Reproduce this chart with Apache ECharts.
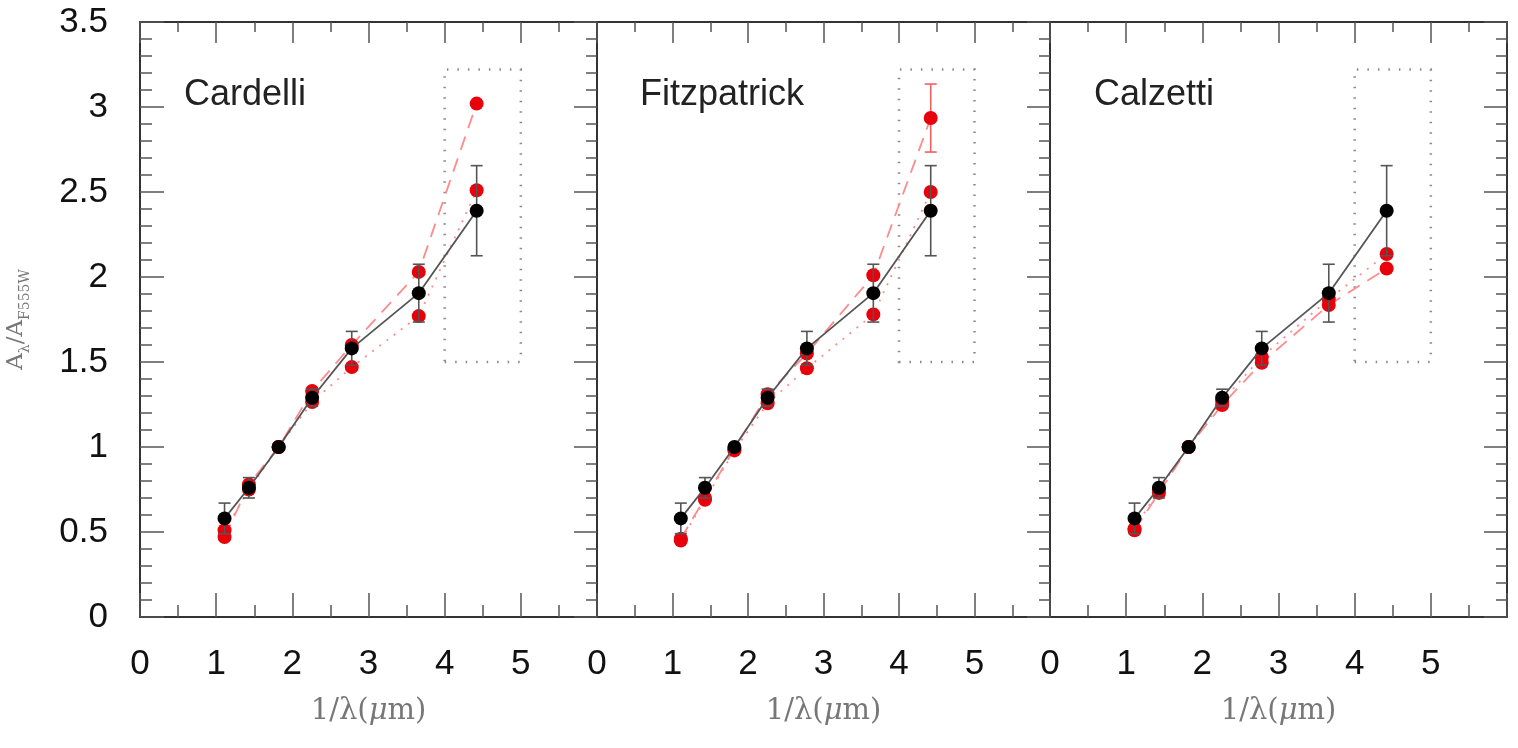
<!DOCTYPE html>
<html>
<head>
<meta charset="utf-8">
<script src="https://cdn.jsdelivr.net/npm/echarts@6/dist/echarts.min.js"></script>
<style>html,body{margin:0;padding:0;background:#fff;}#c{width:1518px;height:748px;}</style>
</head>
<body>
<div id="c"></div>
<script>
// ---- data ----
const panelNames = ['Cardelli', 'Fitzpatrick', 'Calzetti'];
const invLambda = [1.11, 1.43, 1.82, 2.26, 2.78, 3.66, 4.42];
const observed = [0.58, 0.76, 1.0, 1.29, 1.58, 1.905, 2.39];
const observedErr = [0.09, 0.06, 0, 0.05, 0.10, 0.17, 0.265];
const cardelliDashed = [0.47, 0.78, 1.0, 1.33, 1.60, 2.03, 3.02];
const cardelliDotted = [0.51, 0.75, 1.0, 1.265, 1.47, 1.77, 2.51];
const fitzDashed = [0.46, 0.70, 0.99, 1.31, 1.55, 2.01, 2.935];
const fitzDashedErr = [0, 0, 0, 0, 0, 0, 0.20];
const fitzDotted = [0.45, 0.69, 0.98, 1.257, 1.463, 1.78, 2.50];
const calzDashed = [0.51, 0.73, 1.0, 1.247, 1.496, 1.835, 2.05];
const calzDotted = [0.52, 0.75, 1.0, 1.27, 1.53, 1.87, 2.135];
const boxX = [4, 5];
const boxY = [1.5, 3.22];
const xTicks = [0, 1, 2, 3, 4, 5];
const yTicks = [0, 0.5, 1, 1.5, 2, 2.5, 3, 3.5];

const dashedSets = [cardelliDashed, fitzDashed, calzDashed];
const dottedSets = [cardelliDotted, fitzDotted, calzDotted];
const dashedErrSets = [null, fitzDashedErr, null];

// ---- layout ----
const grids = [
  {left: 140, right: 1518 - 597, top: 22, bottom: 748 - 617},
  {left: 597, right: 1518 - 1050, top: 22, bottom: 748 - 617},
  {left: 1050, right: 1518 - 1507, top: 22, bottom: 748 - 617}
];
const titleLefts = [179, 635, 1089];

const frame = {show: true, onZero: false, lineStyle: {color: '#333', width: 2}};
const tickStyle = {color: '#555', width: 1.5};
const sans = 'Liberation Sans, Arial, Helvetica, sans-serif';
const serif = 'DejaVu Serif, Liberation Serif, serif';

const xAxis = [], yAxis = [], series = [], title = [];

function zip(xs, ys, es) {
  return xs.map((x, i) => es ? [x, ys[i], es[i]] : [x, ys[i]]);
}

function errRender(color) {
  return function (params, api) {
    const x = api.value(0), y = api.value(1), e = api.value(2);
    if (!e) return null;
    const t = api.coord([x, y + e]);
    const b = api.coord([x, y - e]);
    const w = 6;
    const st = {stroke: color, lineWidth: 1.6};
    return {
      type: 'group',
      children: [
        {type: 'line', shape: {x1: t[0], y1: t[1], x2: b[0], y2: b[1]}, style: st},
        {type: 'line', shape: {x1: t[0] - w, y1: t[1], x2: t[0] + w, y2: t[1]}, style: st},
        {type: 'line', shape: {x1: b[0] - w, y1: b[1], x2: b[0] + w, y2: b[1]}, style: st}
      ]
    };
  };
}

panelNames.forEach((name, i) => {
  // bottom x axis
  xAxis.push({
    type: 'value', gridIndex: i, min: 0, max: 6, interval: 1, position: 'bottom',
    axisLine: frame,
    axisTick: {show: true, inside: true, length: 24, lineStyle: tickStyle},
    minorTick: {show: true, splitNumber: 2, length: 12, lineStyle: tickStyle},
    splitLine: {show: false},
    axisLabel: {
      show: true, margin: 30, fontSize: 35, color: '#111', fontFamily: sans,
      formatter: v => (xTicks.indexOf(v) >= 0 ? String(v) : '')
    },
    name: '{a|1/λ(}{b|μ}{a|m)}', nameLocation: 'middle', nameGap: 80,
    nameTextStyle: {
      rich: {
        a: {fontFamily: serif, fontSize: 29, color: '#777'},
        b: {fontFamily: serif, fontSize: 29, color: '#777', fontStyle: 'italic'}
      }
    }
  });
  // top x axis
  xAxis.push({
    type: 'value', gridIndex: i, min: 0, max: 6, interval: 1, position: 'top',
    axisLine: frame,
    axisTick: {show: true, inside: true, length: 21, lineStyle: tickStyle},
    minorTick: {show: true, splitNumber: 2, length: 10, lineStyle: tickStyle},
    splitLine: {show: false},
    axisLabel: {show: false}
  });
  // left y axis
  const left = {
    type: 'value', gridIndex: i, min: 0, max: 3.5, interval: 0.5, position: 'left',
    axisLine: frame,
    splitLine: {show: false},
    axisTick: {show: i === 0, inside: true, length: 24, lineStyle: tickStyle},
    minorTick: {show: i === 0, splitNumber: 5, length: 12, lineStyle: tickStyle},
    axisLabel: {
      show: i === 0, margin: 32, fontSize: 35, color: '#111', fontFamily: sans,
      formatter: v => (yTicks.indexOf(v) >= 0 ? String(v) : '')
    }
  };
  if (i === 0) {
    left.name = '{a|A}{s|λ}{a|/A}{s|F555W}';
    left.nameLocation = 'middle';
    left.nameGap = 112;
    left.nameRotate = 90;
    left.nameTextStyle = {
      rich: {
        a: {fontFamily: serif, fontSize: 23, color: '#777', verticalAlign: 'bottom'},
        s: {fontFamily: serif, fontSize: 14, color: '#777', verticalAlign: 'bottom', padding: [0, 0, -4, 0]}
      }
    };
  }
  yAxis.push(left);
  // right y axis
  yAxis.push({
    type: 'value', gridIndex: i, min: 0, max: 3.5, interval: 0.5, position: 'right',
    axisLine: frame,
    splitLine: {show: false},
    axisTick: {show: true, inside: true, length: 23, lineStyle: tickStyle},
    minorTick: {show: true, splitNumber: 5, length: 11, lineStyle: tickStyle},
    axisLabel: {show: false}
  });

  const xi = i * 2, yi = i * 2;

  // red dashed model
  series.push({
    type: 'line', xAxisIndex: xi, yAxisIndex: yi, z: 2,
    data: zip(invLambda, dashedSets[i]),
    symbol: 'circle', symbolSize: 14,
    itemStyle: {color: '#e8000b'},
    lineStyle: {color: '#ff8c8c', width: 1.8, type: [14, 9]},
    emphasis: {disabled: true}, animation: false
  });
  // red dotted model
  series.push({
    type: 'line', xAxisIndex: xi, yAxisIndex: yi, z: 2,
    data: zip(invLambda, dottedSets[i]),
    symbol: 'circle', symbolSize: 14,
    itemStyle: {color: '#e8000b'},
    lineStyle: {color: '#ff8c8c', width: 1.8, type: [2, 7]},
    emphasis: {disabled: true}, animation: false
  });
  if (dashedErrSets[i]) {
    series.push({
      type: 'custom', xAxisIndex: xi, yAxisIndex: yi, z: 1,
      renderItem: errRender('#f06060'),
      data: zip(invLambda, dashedSets[i], dashedErrSets[i]),
      animation: false
    });
  }
  // observed error bars
  series.push({
    type: 'custom', xAxisIndex: xi, yAxisIndex: yi, z: 3,
    renderItem: errRender('#555'),
    data: zip(invLambda, observed, observedErr),
    animation: false
  });
  // observed
  series.push({
    type: 'line', xAxisIndex: xi, yAxisIndex: yi, z: 4,
    data: zip(invLambda, observed),
    symbol: 'circle', symbolSize: 14,
    itemStyle: {color: '#000'},
    lineStyle: {color: '#555', width: 1.8},
    emphasis: {disabled: true}, animation: false,
    markArea: {
      silent: true,
      label: {show: false},
      itemStyle: {color: 'rgba(0,0,0,0)', borderColor: '#8a8a8a', borderWidth: 2.5, borderType: [1.5, 9]},
      data: [[{coord: [boxX[0], boxY[0]]}, {coord: [boxX[1], boxY[1]]}]]
    }
  });

  title.push({
    text: name, left: titleLefts[i], top: 72,
    textStyle: {fontFamily: sans, fontSize: 36, fontWeight: 'normal', color: '#222'}
  });
});

const chart = echarts.init(document.getElementById('c'), null, {renderer: 'canvas'});
chart.setOption({
  animation: false,
  backgroundColor: '#fff',
  title: title,
  grid: grids,
  xAxis: xAxis,
  yAxis: yAxis,
  series: series
});
</script>
</body>
</html>
